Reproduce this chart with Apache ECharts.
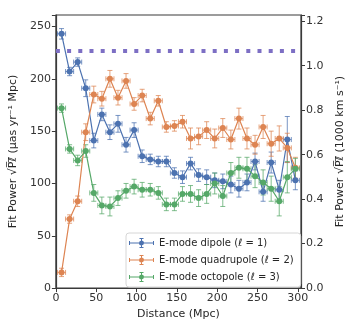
<!DOCTYPE html>
<html>
<head>
<meta charset="utf-8">
<script src="https://cdn.jsdelivr.net/npm/echarts@6/dist/echarts.min.js"></script>
<style>
  html, body { margin: 0; padding: 0; background: #fff; }
  #chart { width: 354px; height: 325px; }
</style>
</head>
<body>
<div id="chart"></div>
<script>
// bin centres (Mpc)
var distance = [7, 17, 27, 37, 47, 57, 67, 77, 87, 97, 107, 117, 127, 137, 147, 157, 167, 177, 187, 197, 207, 217, 227, 237, 247, 257, 267, 277, 287, 297];
var binHalfWidth = 5;

var dipole = [243, 207, 216, 191, 141, 166, 149, 157, 137, 151, 126, 123, 121, 121, 110, 106, 119, 108, 106, 103, 102, 99, 95, 101, 121, 92, 120, 94, 142, 103];
var dipoleErr = [5, 4, 4, 8, 7, 6, 7, 8, 7, 7, 6, 5, 5, 5, 5, 6, 6, 6, 7, 7, 7, 8, 8, 8, 8, 9, 10, 9, 22, 9];

var quadrupole = [15, 66, 83, 149, 185, 181, 200, 182, 198, 176, 184, 162, 179, 154, 155, 159, 143, 145, 151, 143, 153, 142, 162, 143, 137, 154, 138, 143, 134, 115];
var quadrupoleErr = [4, 4, 5, 8, 8, 7, 8, 7, 7, 6, 6, 6, 5, 5, 5, 6, 10, 8, 8, 9, 9, 9, 10, 10, 9, 11, 12, 12, 14, 10];

var octopole = [172, 133, 122, 131, 91, 79, 78, 86, 93, 97, 94, 94, 91, 80, 80, 90, 90, 86, 90, 100, 88, 110, 115, 114, 107, 101, 95, 83, 106, 114];
var octopoleErr = [4, 4, 5, 6, 8, 8, 9, 7, 7, 7, 7, 6, 6, 6, 6, 7, 8, 8, 9, 10, 10, 10, 10, 11, 11, 12, 12, 14, 15, 10];

var refLevel = 227;   // dotted line
var leftTicks = [0, 50, 100, 150, 200, 250];
var rightTicks = [0.0, 0.2, 0.4, 0.6, 0.8, 1.0, 1.2];
var leftMax = 261;
var leftPerRight = 212.5; // left-axis units per right-axis unit

var names = ["E-mode dipole (\u2113 = 1)", "E-mode quadrupole (\u2113 = 2)", "E-mode octopole (\u2113 = 3)"];
var colors = ["#4c72b0", "#dd8452", "#55a868"];
var font = "DejaVu Sans";
var axisColor = "#3a3a3a";

// legend marker: line with x caps + error bar + dot
var legendIcon = "path://M0,4.5L25,4.5L25,5.5L0,5.5Z" +
  "M0,3L1,3L1,7L0,7Z M24,3L25,3L25,7L24,7Z" +
  "M12,0L13,0L13,10L12,10Z" +
  "M10.5,0L14.5,0L14.5,1L10.5,1Z M10.5,9L14.5,9L14.5,10L10.5,10Z" +
  "M12.5,2.5A2.5,2.5 0 1 1 12.49,2.5Z";

function pairs(vals, errs) {
  return distance.map(function (d, i) { return [d, vals[i], errs[i]]; });
}

function errRender(color) {
  return function (params, api) {
    var x = api.value(0), y = api.value(1), e = api.value(2);
    var top = api.coord([x, y + e]);
    var bot = api.coord([x, y - e]);
    var lft = api.coord([x - binHalfWidth, y]);
    var rgt = api.coord([x + binHalfWidth, y]);
    var cap = 2.5;
    var st = { stroke: color, lineWidth: 1, opacity: 0.75 };
    var lines = [
      [top[0], top[1], bot[0], bot[1]],
      [top[0] - cap, top[1], top[0] + cap, top[1]],
      [bot[0] - cap, bot[1], bot[0] + cap, bot[1]],
      [lft[0], lft[1], rgt[0], rgt[1]],
      [lft[0], lft[1] - cap, lft[0], lft[1] + cap],
      [rgt[0], rgt[1] - cap, rgt[0], rgt[1] + cap]
    ];
    return {
      type: "group",
      children: lines.map(function (l) {
        return { type: "line", shape: { x1: l[0], y1: l[1], x2: l[2], y2: l[3] }, style: st };
      })
    };
  };
}

var seriesVals = [dipole, quadrupole, octopole];
var seriesErrs = [dipoleErr, quadrupoleErr, octopoleErr];
var series = [];
seriesVals.forEach(function (vals, k) {
  series.push({
    type: "custom",
    name: names[k],
    renderItem: errRender(colors[k]),
    data: pairs(vals, seriesErrs[k]),
    encode: { x: 0, y: 1 },
    z: 2,
    silent: true
  });
  series.push({
    type: "line",
    name: names[k],
    data: distance.map(function (d, i) { return [d, vals[i]]; }),
    symbol: "circle",
    symbolSize: 6,
    showSymbol: true,
    itemStyle: { color: colors[k] },
    lineStyle: { color: colors[k], width: 1.2 },
    z: 3
  });
});
series[1].markLine = {
  silent: true,
  symbol: "none",
  label: { show: false },
  lineStyle: { color: "#7d6fc4", width: 4, type: [4, 7.2], opacity: 1 },
  data: [{ yAxis: refLevel }]
};

var chart = echarts.init(document.getElementById("chart"));
chart.setOption({
  animation: false,
  color: colors,
  textStyle: { fontFamily: font },
  grid: { left: 46, right: 47, top: 15, bottom: 33, show: true, borderColor: axisColor, borderWidth: 1.2, backgroundColor: "transparent" },
  legend: {
    data: names.map(function (n) { return { name: n, icon: legendIcon }; }),
    orient: "vertical",
    left: 126,
    top: 233,
    itemWidth: 25,
    itemHeight: 10,
    itemGap: 5,
    padding: [4, 7, 4, 3],
    borderColor: "#d6d6d6",
    borderWidth: 1,
    borderRadius: 3,
    backgroundColor: "rgba(255,255,255,0.85)",
    textStyle: { fontFamily: font, fontSize: 10, color: "#262626", lineHeight: 12 }
  },
  xAxis: {
    type: "value",
    min: 0,
    max: 304,
    interval: 50,
    name: "Distance (Mpc)",
    nameLocation: "middle",
    nameGap: 20,
    nameTextStyle: { fontFamily: font, fontSize: 11, color: "#262626" },
    axisLine: { lineStyle: { color: axisColor, width: 1.2 } },
    axisTick: { show: true, inside: false, length: 4, lineStyle: { color: axisColor } },
    axisLabel: { fontFamily: font, fontSize: 11, color: "#333", margin: 5 },
    splitLine: { show: false }
  },
  yAxis: [
    {
      type: "value",
      min: 0,
      max: leftMax,
      interval: 50,
      name: "Fit Power \u221AP\u0305\u2113\u0305 (\u03BCas yr\u207B\u00B9 Mpc)",
      nameLocation: "middle",
      nameGap: 30,
      nameRotate: 90,
      nameTextStyle: { fontFamily: font, fontSize: 11, color: "#262626" },
      axisLine: { show: true, lineStyle: { color: axisColor, width: 1.2 } },
      axisTick: { show: true, length: 4, lineStyle: { color: axisColor } },
      axisLabel: {
        fontFamily: font, fontSize: 11, color: "#333", margin: 5,
        formatter: function (v) { return leftTicks.indexOf(v) >= 0 ? String(v) : ""; }
      },
      splitLine: { show: false }
    },
    {
      type: "value",
      position: "right",
      min: 0,
      max: leftMax / leftPerRight,
      interval: 0.2,
      name: "Fit Power \u221AP\u0305\u2113\u0305 (1000 km s\u207B\u00B9)",
      nameLocation: "middle",
      nameGap: 34,
      nameRotate: 90,
      nameTextStyle: { fontFamily: font, fontSize: 11, color: "#262626" },
      axisLine: { show: true, lineStyle: { color: axisColor, width: 1.2 } },
      axisTick: { show: true, length: 4, lineStyle: { color: axisColor } },
      axisLabel: {
        fontFamily: font, fontSize: 11, color: "#333", margin: 5,
        formatter: function (v) {
          var r = Math.round(v * 10) / 10;
          return rightTicks.indexOf(r) >= 0 && Math.abs(r - v) < 1e-6 ? r.toFixed(1) : "";
        }
      },
      splitLine: { show: false }
    }
  ],
  series: series
});
</script>
</body>
</html>
